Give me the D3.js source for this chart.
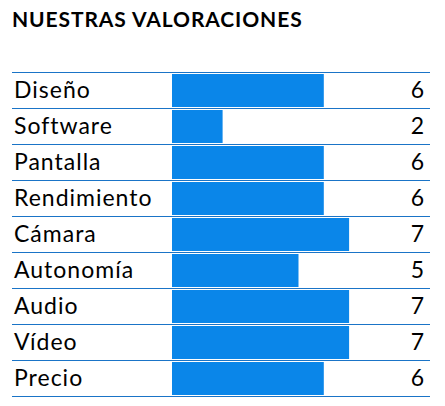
<!DOCTYPE html>
<html><head><meta charset="utf-8">
<script src="https://cdn.jsdelivr.net/npm/d3@7"></script>
<style>body{margin:0;background:#fff}</style>
</head><body>
<div id="chart"></div>
<script>
const categories = ["Diseño", "Software", "Pantalla", "Rendimiento", "Cámara", "Autonomía", "Audio", "Vídeo", "Precio"];
const scores = [6, 2, 6, 6, 7, 5, 7, 7, 6];
const title = "NUESTRAS VALORACIONES";

const width = 445, height = 406;
const font = "Lato, 'Open Sans', sans-serif";

const svg = d3.select("#chart").append("svg")
	.attr("width", width).attr("height", height);

const x = d3.scaleLinear().domain([0, 10]).range([172, 425]);
const y = d3.scaleBand().domain(categories).range([72, 396]);

svg.append("text")
	.attr("x", 12).attr("y", 27)
	.attr("font-family", font).attr("font-weight", "bold")
	.attr("font-size", 21).attr("letter-spacing", 0.9).attr("fill", "#000")
	.text(title);

// bars
svg.selectAll(".bar")
	.data(categories)
	.join("rect")
	.attr("class", "bar")
	.attr("x", x(0))
	.attr("y", (d) => y(d) + 2)
	.attr("width", (d, i) => x(scores[i]) - x(0))
	.attr("height", y.bandwidth() - 3)
	.attr("fill", "#0a86e9");

// separators
svg.selectAll(".sep")
	.data(d3.range(categories.length + 1))
	.join("line")
	.attr("class", "sep")
	.attr("x1", 12).attr("x2", 430)
	.attr("y1", (i) => 72 + i * y.step() + 0.5)
	.attr("y2", (i) => 72 + i * y.step() + 0.5)
	.attr("stroke", "#1a74c7").attr("stroke-width", 1.2);

// labels
svg.selectAll(".lbl")
	.data(categories)
	.join("text")
	.attr("class", "lbl")
	.attr("x", 14)
	.attr("y", (d) => y(d) + y.bandwidth() / 2 + 8)
	.attr("font-family", font).attr("font-size", 23).attr("letter-spacing", 1)
	.text((d) => d);

svg.selectAll(".val")
	.data(scores)
	.join("text")
	.attr("class", "val")
	.attr("x", 424)
	.attr("y", (d, i) => y(categories[i]) + y.bandwidth() / 2 + 8)
	.attr("text-anchor", "end")
	.attr("font-family", font).attr("font-size", 23)
	.text((d) => d);
</script>
</body></html>
